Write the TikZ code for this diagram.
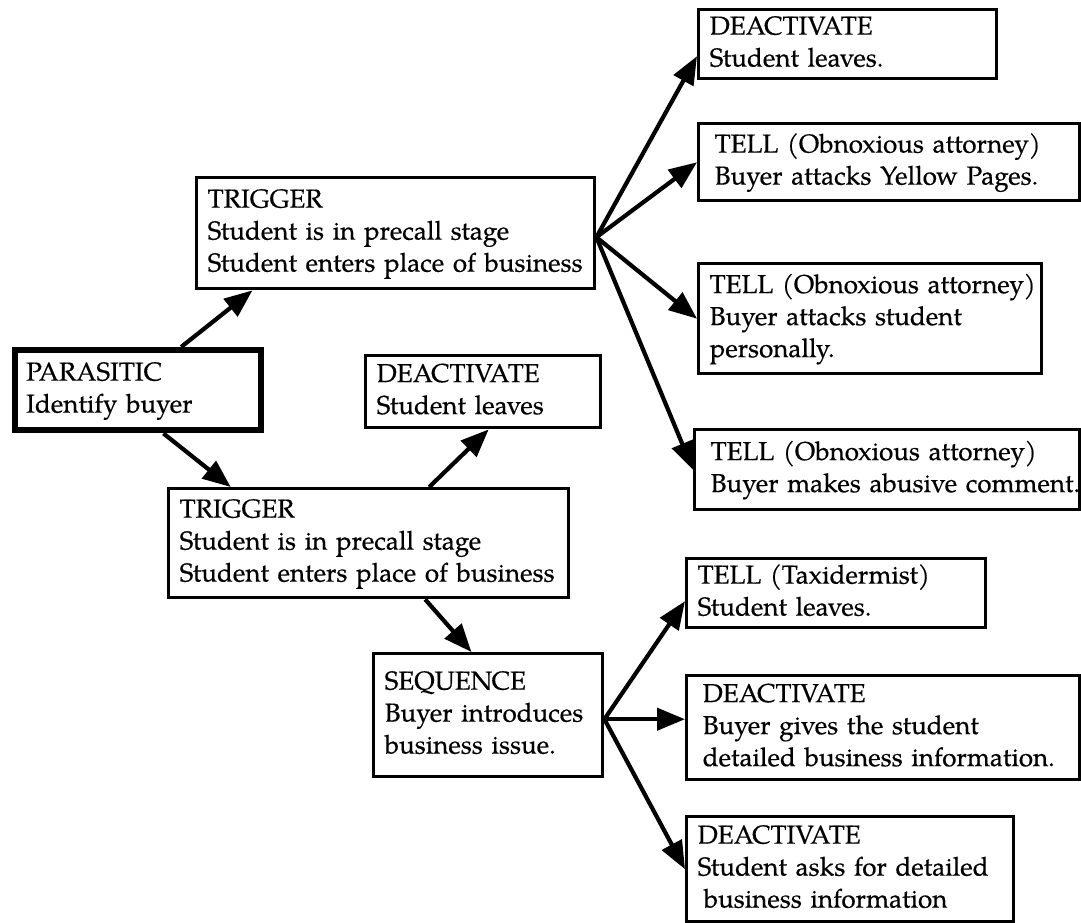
\documentclass[tikz,border=0pt]{standalone}
\usepackage{fontspec}
\setmainfont{TeX Gyre Pagella}[FakeBold=0.5]
\usetikzlibrary{arrows.meta,calc}
% stack the lines of a box, flush left
\newcommand{\boxlines}[1]{\begin{tabular}{@{}l@{}}#1\end{tabular}}
\begin{document}
\begin{tikzpicture}[x=0.5pt,y=-0.5pt,
  box/.style={draw, line width=1.7pt, anchor=north west, align=left,
    inner xsep=5.5pt, inner ysep=0pt, font=\fontsize{13}{16}\selectfont},
  thickbox/.style={box, line width=3.2pt},
  link/.style={line width=2.1pt, -{Triangle[length=14pt,width=11pt]}}]

\fill[white] (0,0) rectangle (1081,922);
\useasboundingbox (0,0) rectangle (1081,922);

% left column
\node[thickbox, text width=112pt, minimum height=40pt] (p) at (12,347)
  {\boxlines{PARASITIC\\Identify buyer}};
\node[box, text width=188pt, minimum height=55.5pt] (t1) at (195,176)
  {\boxlines{TRIGGER\\Student is in precall stage\\Student enters place of business}};
\node[box, text width=189pt, minimum height=54.5pt] (t2) at (167,487)
  {\boxlines{TRIGGER\\Student is in precall stage\\Student enters place of business}};
\node[box, text width=106.5pt, minimum height=36pt] (dm) at (364,354)
  {\boxlines{DEACTIVATE\\Student leaves}};
\node[box, text width=103.5pt, minimum height=61.5pt] (s) at (372,652)
  {\boxlines{SEQUENCE\\Buyer introduces\\business issue.}};

% outcomes of the first trigger
\node[box, text width=138pt, minimum height=34.5pt] (r1) at (697,8)
  {\boxlines{DEACTIVATE\\Student leaves.}};
\node[box, text width=179.5pt, minimum height=38.5pt] (r2) at (697,122)
  {\boxlines{\hspace{2.5pt}TELL (Obnoxious attorney)\\\hspace{2.5pt}Buyer attacks Yellow Pages.}};
\node[box, text width=160.5pt, minimum height=55pt] (r3) at (697,262)
  {\boxlines{TELL (Obnoxious attorney)\\Buyer attacks student\\personally.}};
\node[box, text width=181.5pt, minimum height=40pt] (r4) at (693,428)
  {\boxlines{\hspace{2.5pt}TELL (Obnoxious attorney)\\\hspace{2.5pt}Buyer makes abusive comment.}};

% outcomes of the sequence
\node[box, text width=138.5pt, minimum height=34.5pt] (b1) at (685,557)
  {\boxlines{TELL (Taxidermist)\\Student leaves.}};
\node[box, text width=185.5pt, minimum height=52pt] (b2) at (685,674)
  {\boxlines{\hspace{2.5pt}DEACTIVATE\\\hspace{2.5pt}Buyer gives the student\\\hspace{2.5pt}detailed business information.}};
\node[box, text width=152.5pt, minimum height=52.5pt] (b3) at (685,815)
  {\boxlines{DEACTIVATE\\Student asks for detailed\\\hspace{3pt}business information}};

% connectors
\draw[link] ($(p.north west)!0.67!(p.north east)$) -- ($(t1.south west)!0.143!(t1.south east)$);
\draw[link] ($(p.south west)!0.6!(p.south east)$) -- ($(t2.north west)!0.158!(t2.north east)$);
\draw[link] ($(t2.north west)!0.65!(t2.north east)$) -- ($(dm.south west)!0.523!(dm.south east)$);
\draw[link] ($(t2.south west)!0.64!(t2.south east)$) -- ($(s.north west)!0.428!(s.north east)$);

\coordinate (f1) at ($(t1.east)+(0,4)$);
\draw[link] (f1) -- ($(r1.west)+(0,12)$);
\draw[link] (f1) -- (r2.west);
\draw[link] (f1) -- (r3.west);
\draw[link] (f1) -- (r4.west);

\coordinate (f2) at ($(s.east)+(0,4)$);
\draw[link] (f2) -- ($(b1.west)+(0,8)$);
\draw[link] (f2) -- (f2 -| b2.west);
\draw[link] (f2) -- (b3.west);
\end{tikzpicture}
\end{document}
